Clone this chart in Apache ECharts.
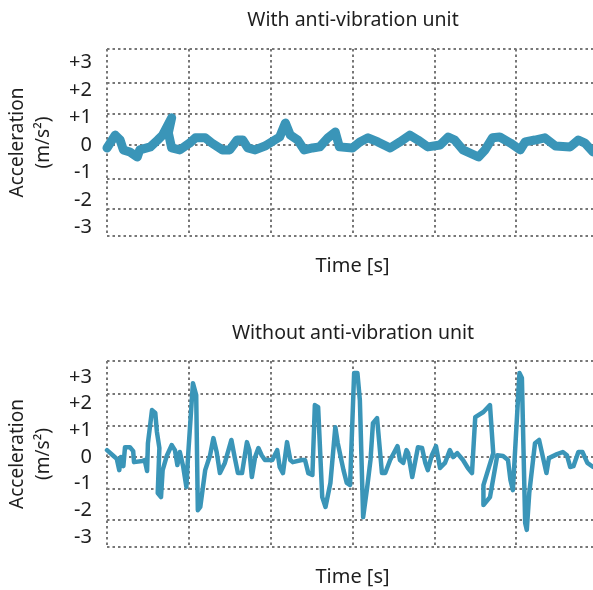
<!DOCTYPE html>
<html><head><meta charset="utf-8">
<script src="https://cdn.jsdelivr.net/npm/echarts@6/dist/echarts.min.js"></script>
<style>html,body{margin:0;padding:0;background:#fff}#c{width:593px;height:590px}</style>
</head><body><div id="c"></div>
<script>
// Titles / axis texts
const titles = ['With anti-vibration unit', 'Without anti-vibration unit'];
const xName = 'Time [s]';
const yName = 'Acceleration\n(m/s\u00B2)';
// Tick labels (m/s²)
const tickLabels = [-3, -2, -1, 0, 1, 2, 3];
// Dotted grid lines (value positions as drawn in the reference)
const topGridLines = [-3.32, -2.34, -1.24, 0, 1.13, 2.26, 3.5];
const bottomGridLines = [-3.37, -2.36, -1.2, 0, 1.16, 2.36, 3.6];
const timeTicks = [0, 1, 2, 3, 4, 5, 6];

// With anti-vibration unit
const withTime = [0,0.10,0.16,0.20,0.28,0.37,0.40,0.53,0.62,0.68,0.79,0.75,0.79,0.89,1.01,1.08,1.20,1.28,1.41,1.50,1.59,1.66,1.72,1.81,1.93,2.05,2.11,2.18,2.24,2.33,2.41,2.51,2.60,2.70,2.79,2.84,3.00,3.09,3.19,3.31,3.46,3.58,3.70,3.80,3.92,4.07,4.17,4.25,4.35,4.54,4.62,4.71,4.80,4.93,5.05,5.11,5.23,5.35,5.48,5.66,5.76,5.84,5.94];
const withAcc = [-0.11,0.36,0.18,-0.18,-0.26,-0.44,-0.18,-0.07,0.18,0.36,0.99,0.44,-0.11,-0.18,0.07,0.26,0.26,0.07,-0.18,-0.18,0.18,0.18,-0.11,-0.18,-0.04,0.18,0.29,0.80,0.36,0.18,-0.18,-0.11,-0.07,0.26,0.47,-0.07,-0.11,0.11,0.26,0.11,-0.11,0.11,0.36,0.18,-0.07,0,0.29,0.18,-0.18,-0.44,-0.18,0.26,0.29,0.07,-0.18,0.11,0.18,0.26,-0.04,-0.07,0.18,0.07,-0.26];

// Without anti-vibration unit
const withoutTime = [0,0.07,0.12,0.15,0.17,0.20,0.22,0.28,0.32,0.33,0.43,0.46,0.49,0.50,0.55,0.59,0.61,0.64,0.62,0.66,0.68,0.73,0.79,0.83,0.86,0.89,0.93,0.97,0.99,1.05,1.09,1.11,1.14,1.20,1.26,1.30,1.34,1.38,1.44,1.52,1.56,1.60,1.65,1.71,1.74,1.77,1.81,1.85,1.89,1.93,2.02,2.08,2.09,2.11,2.15,2.20,2.24,2.27,2.38,2.42,2.46,2.51,2.54,2.58,2.63,2.67,2.73,2.79,2.82,2.89,2.93,2.97,3.02,3.06,3.09,3.13,3.15,3.18,3.22,3.25,3.30,3.36,3.40,3.46,3.55,3.58,3.62,3.66,3.68,3.73,3.75,3.80,3.85,3.89,3.92,3.97,4.02,4.07,4.13,4.19,4.23,4.28,4.35,4.41,4.46,4.50,4.60,4.68,4.72,4.60,4.60,4.68,4.77,4.84,4.90,4.93,4.96,5.04,5.07,5.11,5.13,5.16,5.23,5.28,5.37,5.40,5.50,5.57,5.62,5.66,5.70,5.76,5.81,5.87,5.94];
const withoutAcc = [0.26,0.07,-0.07,-0.49,0,-0.34,0.37,0.37,0.22,-0.19,-0.15,-0.11,-0.52,0.52,1.76,1.65,0.94,0.34,-1.35,-1.50,-0.49,0.04,0.45,0.26,-0.30,0.19,-0.34,-1.12,0,2.77,2.32,-1.99,-1.87,-0.49,0.07,0.71,0.19,-0.60,-0.22,0.64,0,-0.60,-0.60,0.56,0.26,-0.75,0,0.34,0.07,-0.11,-0.11,0.26,0.26,-0.37,-0.60,0.56,-0.11,-0.19,-0.11,-0.11,-0.60,-0.67,1.95,1.87,-1.50,-1.87,-0.97,1.12,0.52,-0.49,-0.97,-1.05,3.15,3.15,2.13,-2.25,-2.25,-1.12,-0.11,1.27,1.46,-0.60,-0.60,-0.11,0.41,-0.11,-0.22,0.26,0.15,-0.75,-0.75,0.37,0.34,-0.22,-0.49,0.07,0.41,-0.41,-0.22,0.26,0,0.15,-0.11,-0.41,-0.60,1.50,1.69,1.95,0.15,-1.05,-1.80,-1.50,0.07,0.04,-0.11,-0.86,-1.24,3.15,2.96,-2.47,-2.73,-1.35,0.52,0.64,-0.60,-0.04,0.11,0.19,0.07,-0.37,-0.34,0.19,0.19,-0.22,-0.37];

const zip = (xs, ys) => xs.map((x, i) => [x, ys[i]]);
const FONT = 'Noto Sans';
const TXT = '#1e1e1e';
const LINE = '#3a95b8';
const GRIDC = '#777777';
const dotted = { color: GRIDC, width: 2, type: [2.5, 3] };

function xAxis(gi) {
  return {
    type: 'value', gridIndex: gi, min: timeTicks[0], max: timeTicks[timeTicks.length - 1], interval: 1,
    axisLine: { show: false }, axisTick: { show: false }, axisLabel: { show: false },
    splitLine: { show: true, lineStyle: dotted },
    name: xName, nameLocation: 'middle', nameGap: 20,
    nameTextStyle: { fontFamily: FONT, fontSize: 20, color: TXT }
  };
}
function yAxis(gi, lines) {
  return {
    type: 'value', gridIndex: gi, min: lines[0], max: lines[lines.length - 1],
    axisLine: { show: false },
    axisTick: { show: false, customValues: lines },
    axisLabel: { customValues: tickLabels, margin: 15, fontFamily: FONT, fontSize: 20, color: TXT,
      formatter: v => (v > 0 ? '+' + v : String(v)) },
    splitLine: { show: true, lineStyle: dotted },
    name: yName, nameLocation: 'middle', nameGap: 50, nameRotate: 90,
    nameTextStyle: { fontFamily: FONT, fontSize: 19, color: TXT, lineHeight: 26 }
  };
}

const chart = echarts.init(document.getElementById('c'), null, { renderer: 'canvas' });
chart.setOption({
  backgroundColor: '#ffffff',
  animation: false,
  title: [
    { text: titles[0], left: 348, top: 5, textAlign: 'center',
      textStyle: { fontFamily: FONT, fontSize: 19.5, fontWeight: 'normal', color: TXT } },
    { text: titles[1], left: 348, top: 318, textAlign: 'center',
      textStyle: { fontFamily: FONT, fontSize: 19.5, fontWeight: 'normal', color: TXT } }
  ],
  grid: [
    { left: 107, top: 49, width: 491, height: 187, outerBoundsMode: 'none', containLabel: false },
    { left: 107, top: 361, width: 491, height: 186, outerBoundsMode: 'none', containLabel: false }
  ],
  xAxis: [xAxis(0), xAxis(1)],
  yAxis: [yAxis(0, topGridLines), yAxis(1, bottomGridLines)],
  series: [
    { type: 'line', xAxisIndex: 0, yAxisIndex: 0, data: zip(withTime, withAcc), showSymbol: false,
      lineStyle: { color: LINE, width: 9, join: 'round', cap: 'round' } },
    { type: 'line', xAxisIndex: 1, yAxisIndex: 1, data: zip(withoutTime, withoutAcc), showSymbol: false,
      lineStyle: { color: LINE, width: 4.5, join: 'round', cap: 'round' } }
  ]
});
</script></body></html>
